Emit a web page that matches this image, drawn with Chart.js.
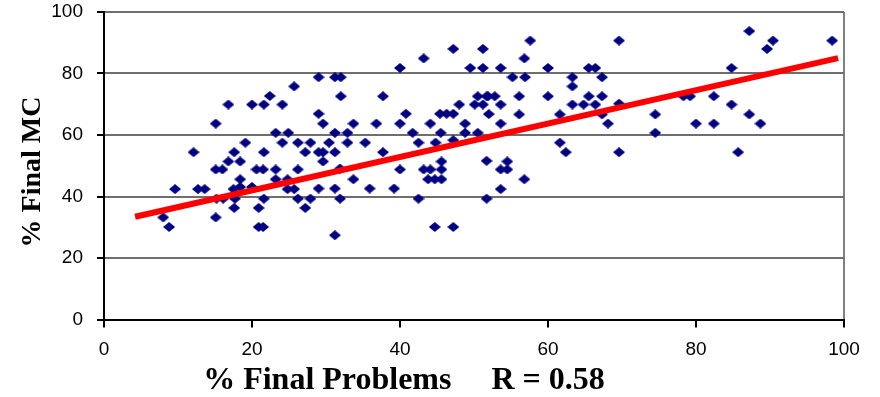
<!DOCTYPE html>
<html>
<head>
<meta charset="utf-8">
<script src="https://cdn.jsdelivr.net/npm/chart.js@4"></script>
<style>
  html, body { margin: 0; padding: 0; background: #fff; }
  #wrap { width: 880px; height: 397px; }
</style>
</head>
<body>
<div id="wrap"><canvas id="mcChart" width="880" height="397"></canvas></div>
<script>
// % final problems (x) vs % final multiple choice (y), one entry per student
const problemsPct = [
  25.7, 22.4, 16.8, 20.0, 21.6, 24.1, 15.1, 23.2, 24.9, 19.1,
  24.1, 26.2, 12.1, 17.6, 21.6, 16.8, 18.4, 15.1, 16.0, 20.6,
  21.5, 23.2, 26.2, 18.4, 23.2, 24.8, 9.6, 12.7, 13.6, 17.5,
  18.4, 20.0, 24.8, 25.7, 15.2, 16.1, 17.7, 21.6, 26.2, 17.6,
  20.9, 8.0, 15.1, 8.8, 20.9, 21.5,
  47.2, 51.2, 43.2, 40.0, 49.5, 51.2, 29.0, 31.2, 32.0, 32.0,
  37.7, 50.5, 51.7, 48.0, 50.1, 51.2, 29.0, 40.8, 45.4, 46.3,
  47.2, 52.0, 29.6, 33.7, 36.8, 40.0, 44.1, 48.8, 31.2, 32.9,
  41.7, 45.5, 48.8, 50.5, 27.9, 30.4, 32.9, 35.3, 42.5, 44.8,
  47.2, 27.2, 29.0, 29.6, 31.2, 37.7, 29.6, 45.6, 51.7, 31.9,
  40.0, 43.2, 44.1, 45.6, 33.7, 43.8, 44.7, 45.6, 29.0, 31.2,
  35.9, 39.2, 27.9, 31.9, 42.5, 51.7, 27.2, 44.7, 47.2, 31.2,
  57.6, 69.6, 56.8, 53.6, 60.0, 65.5, 66.4, 55.2, 56.9, 63.3,
  67.3, 63.3, 51.9, 52.8, 56.1, 60.0, 65.5, 67.3, 53.6, 63.3,
  64.8, 66.4, 69.6, 56.1, 61.6, 67.3, 74.5, 53.6, 68.1, 74.5,
  61.6, 62.4, 69.6, 54.5, 53.6, 54.5, 56.8, 53.6,
  87.2, 90.4, 98.4, 89.6, 84.8, 78.3, 79.2, 82.4, 84.8, 87.2,
  80.0, 82.4, 88.7, 85.7
];
const finalMcPct = [
  75.8, 72.7, 69.9, 69.9, 69.9, 69.9, 63.7, 60.7, 60.7, 57.5,
  57.5, 57.5, 54.4, 54.4, 54.4, 51.4, 51.4, 48.8, 48.8, 48.8,
  48.8, 48.8, 48.8, 45.6, 45.6, 45.6, 42.4, 42.4, 42.4, 42.4,
  43.1, 43.1, 42.4, 42.4, 39.3, 39.3, 39.3, 39.3, 39.3, 36.3,
  36.3, 33.2, 33.2, 30.1, 30.1, 30.1,
  88.0, 88.0, 84.9, 81.8, 81.8, 81.8, 78.8, 78.8, 78.8, 72.6,
  72.6, 72.6, 72.6, 69.9, 69.9, 69.9, 66.9, 66.9, 66.9, 66.9,
  66.9, 66.8, 63.7, 63.7, 63.7, 63.7, 63.7, 63.7, 60.7, 60.7,
  60.7, 60.7, 60.7, 60.7, 57.5, 57.5, 57.5, 57.5, 57.5, 57.5,
  58.3, 54.4, 54.4, 54.4, 54.4, 54.4, 51.4, 51.4, 51.6, 49.1,
  48.8, 48.8, 48.8, 48.8, 45.6, 45.6, 45.6, 45.6, 42.6, 42.6,
  42.6, 42.6, 39.3, 39.3, 39.3, 39.3, 36.3, 30.1, 30.1, 27.4,
  90.7, 90.7, 84.9, 81.8, 81.8, 81.8, 81.8, 78.8, 78.8, 78.8,
  78.8, 75.8, 72.6, 72.6, 72.6, 72.6, 72.6, 72.6, 69.9, 69.9,
  69.9, 69.9, 70.2, 66.7, 66.7, 66.7, 66.7, 63.7, 63.7, 60.7,
  57.5, 54.4, 54.4, 51.4, 48.8, 48.8, 45.6, 42.4,
  93.8, 90.7, 90.7, 88.0, 81.8, 72.6, 72.6, 72.6, 69.9, 66.7,
  63.7, 63.7, 63.7, 54.4
];

// least-squares trend line end points
const fitX = [4.2, 99.2];
const fitY = [33.4, 85.0];

const xTicks = [0, 20, 40, 60, 80, 100];
const yTicks = [0, 20, 40, 60, 80, 100];

const xTitle = '% Final Problems     R = 0.58';
const yTitle = '% Final MC';

// navy diamond marker, a little wider than tall
function diamond(w, h, color) {
  const c = document.createElement('canvas');
  c.width = w;
  c.height = h;
  const g = c.getContext('2d');
  g.fillStyle = color;
  g.beginPath();
  g.moveTo(w / 2, 0);
  g.lineTo(w, h / 2);
  g.lineTo(w / 2, h);
  g.lineTo(0, h / 2);
  g.closePath();
  g.fill();
  return c;
}
const marker = diamond(12, 10, '#000080');

const students = problemsPct.map((x, i) => ({ x: x, y: finalMcPct[i] }));
const trend = fitX.map((x, i) => ({ x: x, y: fitY[i] }));

// serif axis titles, placed off-centre like the original sheet
const axisTitles = {
  id: 'axisTitles',
  afterDraw(chart) {
    const ctx = chart.ctx;
    ctx.save();
    ctx.fillStyle = '#000';
    ctx.textAlign = 'center';
    ctx.textBaseline = 'middle';
    ctx.font = 'bold 32px "Liberation Serif", "Times New Roman", serif';
    ctx.fillText(xTitle, 404, 381);
    ctx.translate(33, 172);
    ctx.rotate(-Math.PI / 2);
    ctx.font = 'bold 28px "Liberation Serif", "Times New Roman", serif';
    ctx.fillText(yTitle, 0, 0);
    ctx.restore();
  }
};

const tickFont = { family: '"Liberation Sans", Arial, sans-serif', size: 19 };

new Chart(document.getElementById('mcChart').getContext('2d'), {
  type: 'scatter',
  data: {
    datasets: [{
      type: 'line',
      data: trend,
      borderColor: '#ff0000',
      borderWidth: 6,
      pointRadius: 0,
      fill: false,
      order: 0
    }, {
      data: students,
      pointStyle: marker,
      pointRadius: 6,
      order: 1
    }]
  },
  options: {
    responsive: false,
    animation: false,
    layout: { padding: { top: 12, right: 36, bottom: 0, left: 0 } },
    plugins: {
      legend: { display: false },
      tooltip: { enabled: false }
    },
    scales: {
      x: {
        type: 'linear',
        min: 0,
        max: 100,
        afterBuildTicks: (s) => { s.ticks = xTicks.map(v => ({ value: v })); },
        afterFit: (s) => { s.height = 77.5; },
        grid: {
          color: (c) => c.tick && c.tick.value === 100 ? '#808080' : 'rgba(0,0,0,0)',
          lineWidth: 2,
          tickColor: '#000',
          tickLength: 8
        },
        border: { color: '#000', width: 2 },
        ticks: { color: '#000', font: tickFont, padding: 11, maxRotation: 0 }
      },
      y: {
        type: 'linear',
        min: 0,
        max: 100,
        afterBuildTicks: (s) => { s.ticks = yTicks.map(v => ({ value: v })); },
        afterFit: (s) => {
          s.width = 104;
          s.paddingTop = 0;
          s.paddingBottom = 0;
        },
        grid: {
          color: '#6e6e6e',
          lineWidth: 2,
          tickColor: '#000',
          tickLength: 7
        },
        border: { color: '#000', width: 2 },
        ticks: { color: '#000', font: tickFont, padding: 14 }
      }
    }
  },
  plugins: [axisTitles]
});
</script>
</body>
</html>
